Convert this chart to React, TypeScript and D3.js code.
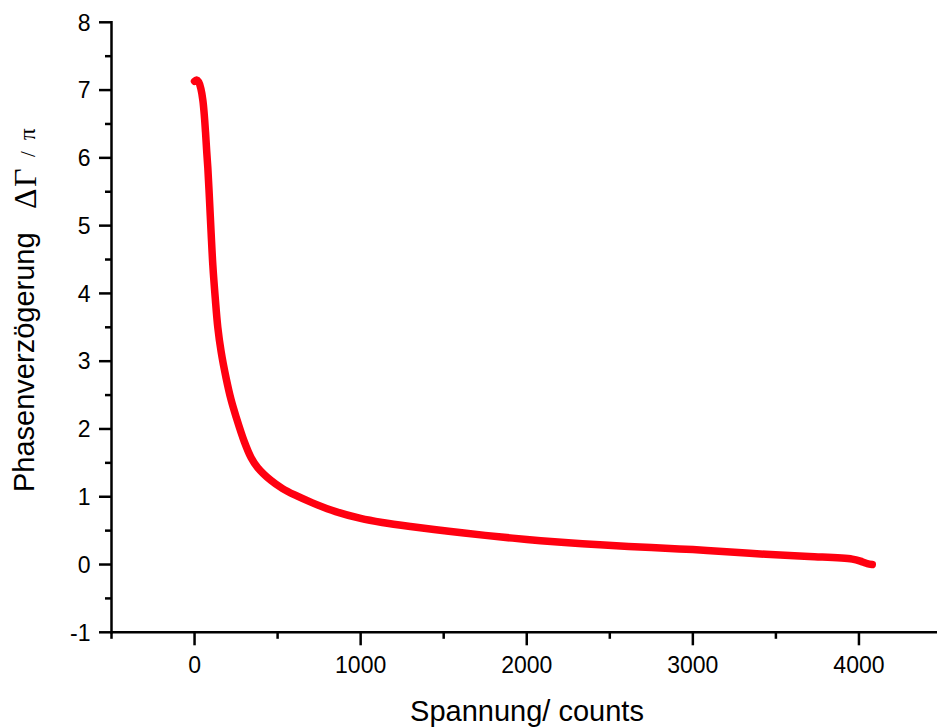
import React from "react";
import * as d3 from "d3";

const countsX: number[] = [
  0, 12, 25, 38, 50, 58, 66, 73, 80, 90, 100, 110, 125, 140, 160, 190, 220, 250,
  300, 340, 380, 460, 530, 600, 710, 850, 1000, 1130, 1300, 1530, 1750, 2000,
  2250, 2440, 2750, 3000, 3250, 3440, 3700, 3960, 4020, 4050, 4080,
];
const retardationY: number[] = [
  7.13, 7.15, 7.12, 7.02, 6.85, 6.65, 6.38, 6.1, 5.85, 5.38, 4.88, 4.42, 3.92,
  3.5, 3.14, 2.75, 2.43, 2.18, 1.81, 1.58, 1.43, 1.24, 1.12, 1.03, 0.91, 0.78,
  0.68, 0.62, 0.56, 0.49, 0.43, 0.37, 0.32, 0.29, 0.25, 0.22, 0.18, 0.15, 0.12,
  0.08, 0.04, 0.015, 0.0,
];
const xMajorTicks: number[] = [0, 1000, 2000, 3000, 4000];
const xMinorTicks: number[] = [-500, 500, 1500, 2500, 3500, 4500];
const yMajorTicks: number[] = [-1, 0, 1, 2, 3, 4, 5, 6, 7, 8];
const yMinorTicks: number[] = [-0.5, 0.5, 1.5, 2.5, 3.5, 4.5, 5.5, 6.5, 7.5];
const xTitle = "Spannung/ counts";
const yTitleMain = "Phasenverzögerung";
const yTitleSymbol = "ΔΓ";
const yTitleSlash = "/";
const yTitlePi = "π";

export default function App() {
  const W = 937;
  const H = 727;
  const x = d3.scaleLinear().domain([-500, 4500]).range([111.5, 942]);
  const y = d3.scaleLinear().domain([-1, 8]).range([632.3, 22.3]);
  const data = countsX.map((c, i) => [c, retardationY[i]] as [number, number]);
  const line = d3
    .line<[number, number]>()
    .x((d) => x(d[0]))
    .y((d) => y(d[1]))
    .curve(d3.curveCatmullRom.alpha(0.5));

  const axisColor = "#000";
  const sw = 2.5;
  const sans = "'Liberation Sans', Arial, sans-serif";
  const serif = "'Liberation Serif', 'Times New Roman', serif";

  return (
    <svg
      width={W}
      height={H}
      style={{ position: "absolute", left: 0, top: 0, background: "#fff" }}
    >
      <rect width={W} height={H} fill="#fff" />
      {/* curve */}
      <path
        d={line(data) || ""}
        fill="none"
        stroke="#ff0010"
        strokeWidth={7.5}
        strokeLinecap="round"
        strokeLinejoin="round"
      />
      {/* axes lines */}
      <line x1={x(-500)} x2={x(-500)} y1={y(8)} y2={y(-1)} stroke={axisColor} strokeWidth={sw} strokeLinecap="square" />
      <line x1={x(-500)} x2={W + 10} y1={y(-1)} y2={y(-1)} stroke={axisColor} strokeWidth={sw} />
      {/* y ticks */}
      {yMajorTicks.map((t) => (
        <g key={"ym" + t}>
          <line x1={x(-500) - 12.5} x2={x(-500)} y1={y(t)} y2={y(t)} stroke={axisColor} strokeWidth={sw} />
          <text
            x={90.5}
            y={y(t)}
            dy="0.36em"
            textAnchor="end"
            fontFamily={sans}
            fontSize={23}
            fill="#000"
          >
            {t}
          </text>
        </g>
      ))}
      {yMinorTicks.map((t) => (
        <line key={"yn" + t} x1={x(-500) - 6.5} x2={x(-500)} y1={y(t)} y2={y(t)} stroke={axisColor} strokeWidth={sw} />
      ))}
      {/* x ticks */}
      {xMajorTicks.map((t) => (
        <g key={"xm" + t}>
          <line x1={x(t)} x2={x(t)} y1={y(-1)} y2={y(-1) + 13} stroke={axisColor} strokeWidth={sw} />
          <text
            x={x(t)}
            y={673}
            textAnchor="middle"
            fontFamily={sans}
            fontSize={23}
            fill="#000"
          >
            {t}
          </text>
        </g>
      ))}
      {xMinorTicks.map((t) => (
        <line key={"xn" + t} x1={x(t)} x2={x(t)} y1={y(-1)} y2={y(-1) + 6.5} stroke={axisColor} strokeWidth={sw} />
      ))}
      {/* x title */}
      <text
        x={527}
        y={720.5}
        textAnchor="middle"
        fontFamily={sans}
        fontSize={29}
        fill="#000"
      >
        {xTitle}
      </text>
      {/* y title */}
      <g transform="rotate(-90)">
        <text x={-492} y={33.5} fontFamily={sans} fontSize={29} fill="#000">
          {yTitleMain}
        </text>
        <text x={-209} y={35.5} fontFamily={serif} fontSize={32} letterSpacing={1.5} fill="#000">
          {yTitleSymbol}
        </text>
        <text x={-157} y={35} fontFamily={serif} fontSize={21} fill="#000">
          {yTitleSlash}
        </text>
        <text x={-140} y={35} fontFamily={serif} fontSize={23} fill="#000">
          {yTitlePi}
        </text>
      </g>
    </svg>
  );
}
